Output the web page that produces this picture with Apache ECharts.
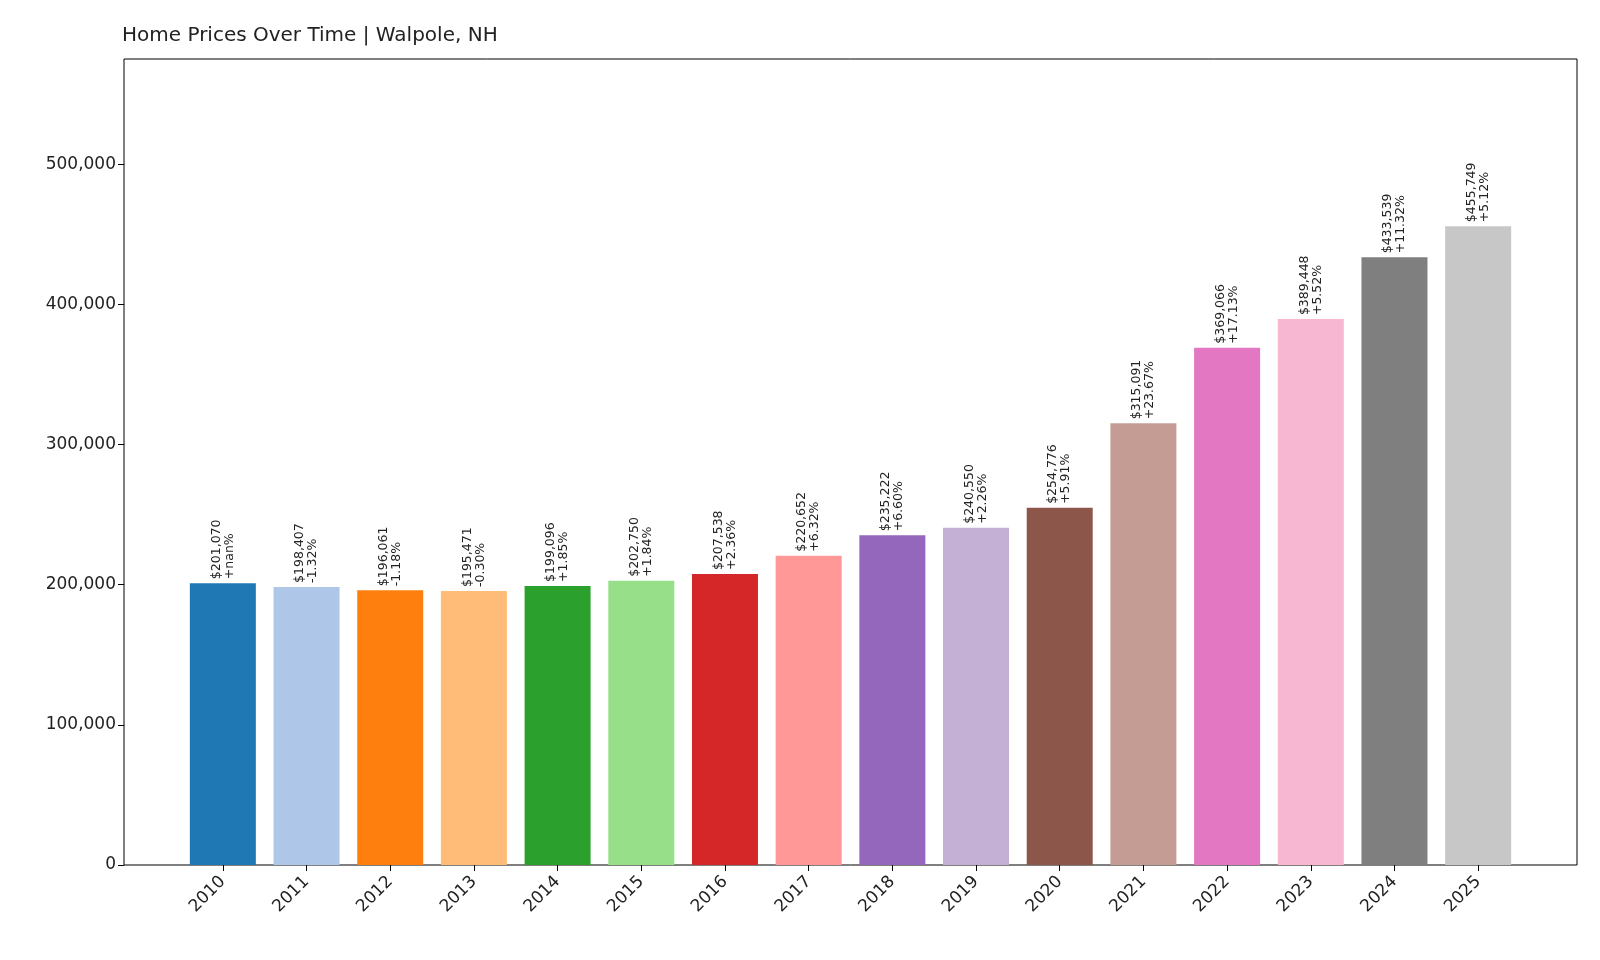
<!DOCTYPE html>
<html><head><meta charset="utf-8">
<script src="https://cdn.jsdelivr.net/npm/echarts@6/dist/echarts.min.js"></script>
<style>html,body{margin:0;background:#fff}#c{width:1600px;height:960px}</style>
</head><body><div id="c"></div>
<script>
const years = ['2010','2011','2012','2013','2014','2015','2016','2017','2018','2019','2020','2021','2022','2023','2024','2025'];
const prices = [201070,198407,196061,195471,199096,202750,207538,220652,235222,240550,254776,315091,369066,389448,433539,455749];
const changes = ['+nan%','-1.32%','-1.18%','-0.30%','+1.85%','+1.84%','+2.36%','+6.32%','+6.60%','+2.26%','+5.91%','+23.67%','+17.13%','+5.52%','+11.32%','+5.12%'];
const colors = ['#1f77b4','#aec7e8','#ff7f0e','#ffbb78','#2ca02c','#98df8a','#d62728','#ff9896','#9467bd','#c5b0d5','#8c564b','#c49c94','#e377c2','#f7b6d2','#7f7f7f','#c7c7c7'];
const yTicks = [0,100000,200000,300000,400000,500000];
const YMAX = 575000;
const font = 'DejaVu Sans';
const chart = echarts.init(document.getElementById('c'));
chart.setOption({
  animation:false,
  textStyle:{fontFamily:font},
  title:{text:'Home Prices Over Time | Walpole, NH',left:117,top:21,textStyle:{fontSize:20,fontWeight:'normal',color:'#222',fontFamily:font}},
  grid:[
    {left:124,top:59,width:1453,height:806,show:true,borderColor:'#000',borderWidth:1,backgroundColor:'transparent'},
    {left:181,top:59,width:1339,height:806}
  ],
  xAxis:[
    {gridIndex:0,type:'value',show:false,min:0,max:1},
    {gridIndex:1,type:'category',data:years,axisLine:{show:false},axisTick:{show:true,alignWithLabel:true,length:6,lineStyle:{color:'#000'}},
     axisLabel:{rotate:45,fontSize:17,color:'#222',margin:14,fontFamily:font}}
  ],
  yAxis:[
    {gridIndex:0,type:'value',min:0,max:YMAX,splitLine:{show:false},axisLine:{show:false},
     axisTick:{show:true,length:6,lineStyle:{color:'#000'},customValues:yTicks},
     axisLabel:{fontSize:17,color:'#222',fontFamily:font,customValues:yTicks}},
    {gridIndex:1,type:'value',min:0,max:YMAX,show:false}
  ],
  series:[{
    type:'bar',xAxisIndex:1,yAxisIndex:1,barWidth:66,
    data:prices.map((v,i)=>({value:v,itemStyle:{color:colors[i]},
      label:{formatter:'$'+v.toLocaleString('en-US')+'\n'+changes[i]}})),
    label:{show:true,position:'top',rotate:90,align:'left',verticalAlign:'middle',distance:4,fontSize:12.5,lineHeight:13,color:'#222',fontFamily:font}
  }]
});
</script></body></html>
